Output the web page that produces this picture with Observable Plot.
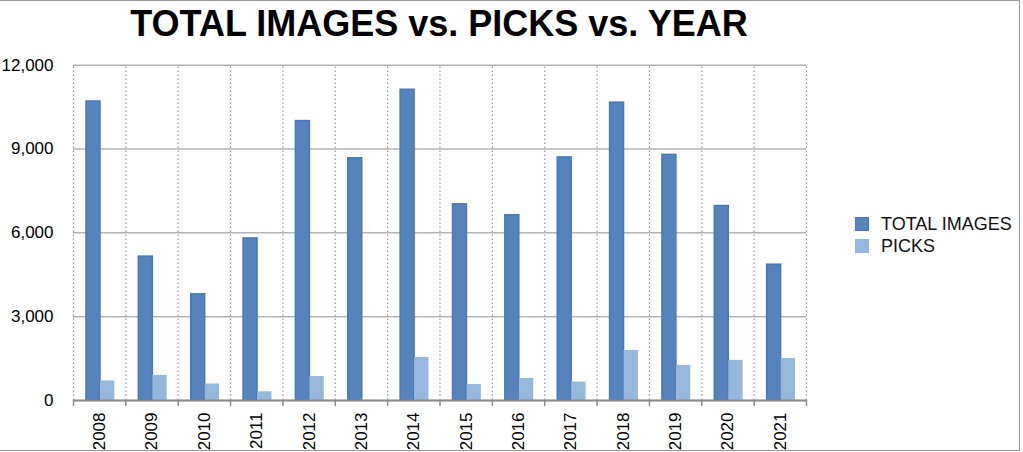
<!DOCTYPE html>
<html>
<head>
<meta charset="utf-8">
<script src="https://cdn.jsdelivr.net/npm/d3@7"></script>
<script src="https://cdn.jsdelivr.net/npm/@observablehq/plot@0.6"></script>
<style>
  html, body { margin: 0; padding: 0; background: #fff; }
  body { font-family: "Liberation Sans", Arial, Helvetica, sans-serif; }
  #wrap { position: relative; width: 1023px; height: 452px; overflow: hidden; }
  #title { height: 50px; line-height: 47px; font-size: 36px; font-weight: bold; color: #000;
           text-align: center; padding-right: 145px; white-space: nowrap; }
  #legend { position: absolute; left: 855px; top: 213px; font-size: 18px; color: #111; }
  .row { display: flex; align-items: center; height: 22px; }
  .sw { width: 14px; height: 14px; margin-right: 12px; box-sizing: border-box; }
  #border { position: absolute; left: -2px; top: 0; width: 1022px; height: 451px; box-sizing: border-box;
            border-top: 1.5px solid #999; border-right: 1.5px solid #999; border-bottom: 1.5px solid #999;
            pointer-events: none; }
</style>
</head>
<body>
<div id="wrap">
  <div id="title">TOTAL IMAGES vs. PICKS vs. YEAR</div>
  <div id="chart"></div>
  <div id="legend"></div>
  <div id="border"></div>
</div>
<script>
const years = [2008, 2009, 2010, 2011, 2012, 2013, 2014, 2015, 2016, 2017, 2018, 2019, 2020, 2021];
const totalImages = [10700, 5150, 3800, 5800, 10000, 8670, 11120, 7020, 6630, 8700, 10660, 8790, 6960, 4860];
const picks = [700, 900, 590, 310, 860, 0, 1540, 575, 790, 660, 1790, 1255, 1435, 1505];
const yTicks = [0, 3000, 6000, 9000, 12000];
const seriesNames = ["TOTAL IMAGES", "PICKS"];
const seriesColors = ["#5683bb", "#95b8dc"];

const data = years.map((y, i) => ({year: y, total: totalImages[i], picks: picks[i]}));
const boundaries = years.map(y => y - 0.5).concat([years[years.length - 1] + 0.5]);
const fmt = d3.format(",");

const chart = Plot.plot({
  width: 1023,
  height: 402,
  marginTop: 14.7,
  marginBottom: 52,
  marginLeft: 73,
  marginRight: 217,
  style: {fontFamily: "'Liberation Sans', Arial, Helvetica, sans-serif", background: "#fff", color: "#000"},
  x: {type: "linear", domain: [years[0] - 0.5, years[years.length - 1] + 0.5]},
  y: {domain: [0, 12000]},
  marks: [
    Plot.gridY(yTicks, {stroke: "#b3b3b3", strokeOpacity: 1, strokeWidth: 1.5}),
    Plot.ruleX(boundaries, {stroke: "#999", strokeDasharray: "1.5,2.5", strokeWidth: 1.2, y1: 0, y2: 12000}),
    Plot.rectY(data, {x1: d => d.year - 0.5, x2: d => d.year + 0.5, y: "total",
      insetLeft: 13, insetRight: 25.4, fill: seriesColors[0], stroke: "#4678bd", strokeWidth: 1.5}),
    Plot.rectY(data, {x1: d => d.year - 0.5, x2: d => d.year + 0.5, y: "picks",
      insetLeft: 27, insetRight: 11, fill: seriesColors[1]}),
    Plot.ruleY([0], {stroke: "#8c8c8c", strokeWidth: 2}),
    Plot.axisY(yTicks, {tickSize: 0, tickPadding: 20, tickFormat: d => fmt(d), fontSize: 17, label: null, fill: "#000"}),
    Plot.axisX(boundaries, {tickSize: 6, tickFormat: () => "", stroke: "#8c8c8c", strokeWidth: 1.5, label: null}),
    Plot.axisX(years, {tickSize: 0, tickPadding: 12, tickRotate: -90, tickFormat: d => String(d),
      fontSize: 17, label: null, fill: "#000"})
  ]
});
document.getElementById("chart").appendChild(chart);

const legend = document.getElementById("legend");
seriesNames.forEach((name, i) => {
  const row = document.createElement("div");
  row.className = "row";
  const sw = document.createElement("div");
  sw.className = "sw";
  sw.style.background = seriesColors[i];
  if (i === 0) sw.style.border = "1.5px solid #4678bd";
  const t = document.createElement("span");
  t.textContent = name;
  row.appendChild(sw);
  row.appendChild(t);
  legend.appendChild(row);
});
</script>
</body>
</html>
